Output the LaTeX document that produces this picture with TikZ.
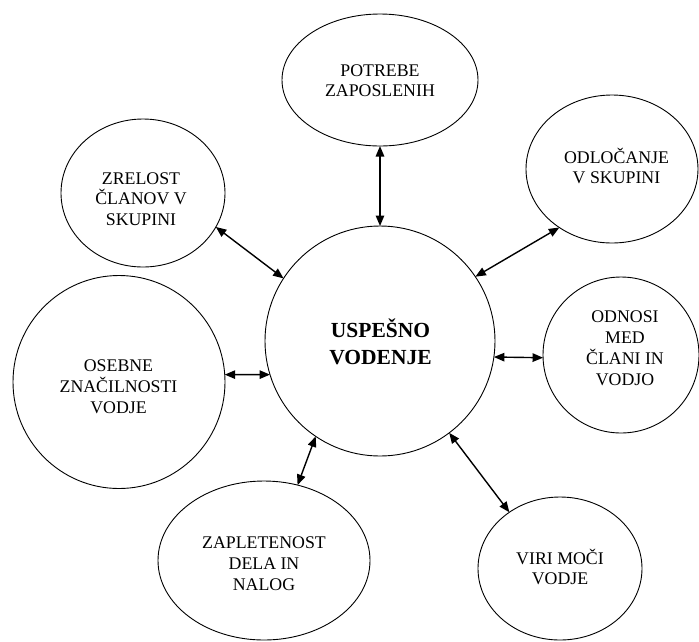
\documentclass[tikz,border=0pt]{standalone}
\usepackage{fontspec}
\setmainfont{Liberation Serif}
\usetikzlibrary{shapes.geometric,arrows.meta}
\begin{document}
\begin{tikzpicture}[x=1pt,y=-1pt,
  bubble/.style={ellipse,draw,line width=0.9pt,inner sep=0pt,outer sep=0pt},
  caption/.style={align=center,inner sep=0pt,font=\fontsize{17.8}{20.8}\selectfont},
  maincaption/.style={align=center,inner sep=0pt,font=\bfseries\fontsize{21.5}{27}\selectfont},
  link/.style={{Triangle[length=10.5pt,width=8.5pt]}-{Triangle[length=10.5pt,width=8.5pt]},line width=1.4pt}]
\useasboundingbox (0,0) rectangle (699,641);

% central topic
\node[bubble,minimum width=230,minimum height=230] (c) at (380,341) {};
\node[maincaption] (ct) at (380.5,341.5) {USPEŠNO\\VODENJE};

% surrounding factors
\node[bubble,minimum width=196,minimum height=132] (p) at (380,80) {};
\node[caption] (pt) at (380,80.7) {POTREBE\\ZAPOSLENIH};

\node[bubble,minimum width=164,minimum height=148] (z) at (143,193) {};
\node[caption] (zt) at (141,199) {ZRELOST\\ČLANOV V\\SKUPINI};

\node[bubble,minimum width=172,minimum height=148] (o) at (612,169) {};
\node[caption] (ot) at (616.5,166) {ODLOČANJE\\V SKUPINI};

\node[bubble,minimum width=156,minimum height=156] (n) at (621,355) {};
\node[caption] (nt) at (625,348.3) {ODNOSI\\MED\\ČLANI IN\\VODJO};

\node[bubble,minimum width=212,minimum height=213] (e) at (119,382) {};
\node[caption] (et) at (118.5,386.5) {OSEBNE\\ZNAČILNOSTI\\VODJE};

\node[bubble,minimum width=212,minimum height=159] (a) at (264,560.5) {};
\node[caption] (at) at (264,563.5) {ZAPLETENOST\\DELA IN\\NALOG};

\node[bubble,minimum width=164,minimum height=143] (v) at (560,568.5) {};
\node[caption] (vt) at (560,567) {VIRI MOČI\\VODJE};

% two-way links
\draw[link] (p.-90) -- (c.90);
\draw[link] (z.-25) -- (c.147);
\draw[link] (o.-132) -- (c.34);
\draw[link] (n.182) -- (c.-8.4);
\draw[link] (e.4) -- (c.197);
\draw[link] (a.66) -- (c.236.4);
\draw[link] (v.132.3) -- (c.-53.9);
\end{tikzpicture}
\end{document}
